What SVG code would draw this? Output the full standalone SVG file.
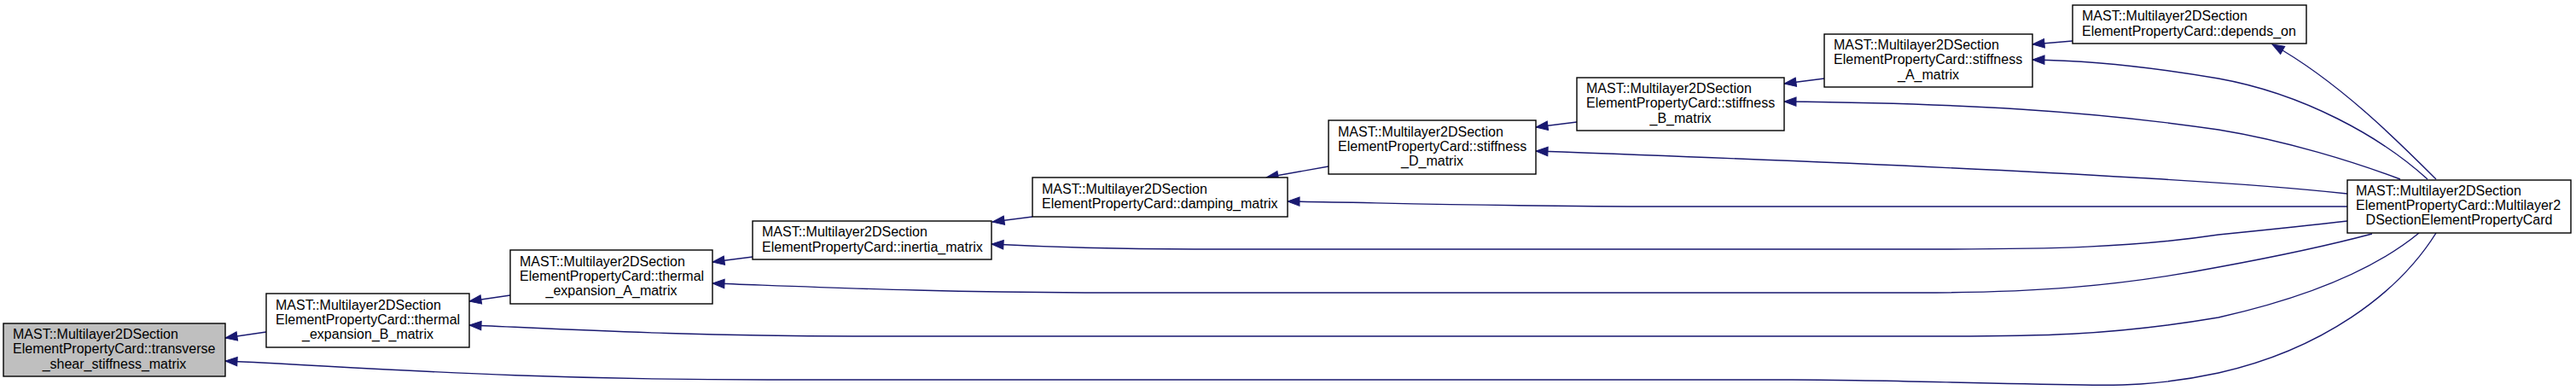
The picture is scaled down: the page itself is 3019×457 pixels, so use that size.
<svg xmlns="http://www.w3.org/2000/svg" width="3019" height="457" viewBox="0 0 3019 457">
<style>
.box{fill:#ffffff;stroke:#000000;stroke-width:1.4}
.cur{fill:#bfbfbf;stroke:#000000;stroke-width:1.4}
text{font-family:"Liberation Sans",Arial,Helvetica,sans-serif;font-size:16px;fill:#000000}
.c{text-anchor:middle}
.edge{fill:none;stroke:#191970;stroke-width:1.4;marker-end:url(#ah)}
</style>
<defs>
<marker id="ah" markerUnits="userSpaceOnUse" markerWidth="16" markerHeight="12" viewBox="0 0 16 12" refX="14" refY="6" orient="auto" overflow="visible">
<path d="M0,0.8 L14,6 L0,11.2 z" fill="#191970" stroke="#191970" stroke-width="1"/>
</marker>
</defs>
<rect width="3019" height="457" fill="#ffffff"/>
<g id="edges">
<path class="edge" d="M312,389 L264,396"/>
<path class="edge" d="M2855,273 C2810,345 2720,410 2600,437 C2530,452 2480,452 2440,451 C2300,449 2200,445 2100,445 L900,445 C600,445 420,430 264,423"/>
<path class="edge" d="M598,346 L550,353"/>
<path class="edge" d="M2835,273 C2790,310 2720,345 2600,372 C2470,394 2380,394 2275,394 L1000,394 C800,394 650,385 550,381"/>
<path class="edge" d="M882,301 L835,307"/>
<path class="edge" d="M2780,274 C2720,290 2660,302 2600,313 C2480,336 2380,343 2250,343 L1300,343 C1100,343 950,336 835,332"/>
<path class="edge" d="M1210,254 L1163,260"/>
<path class="edge" d="M2751,259 C2700,265 2650,270 2600,275 C2500,290 2400,292 2270,292 L1400,292 C1300,292 1220,289 1162,286"/>
<path class="edge" d="M1557,195 L1484,208"/>
<path class="edge" d="M2751,242 L1950,242 C1750,242 1600,237 1509,236"/>
<path class="edge" d="M1848,143 L1800,149"/>
<path class="edge" d="M2751,227 C2650,216 2550,211 2500,208 C2300,196 2050,186 1800,177"/>
<path class="edge" d="M2138,92 L2091,98"/>
<path class="edge" d="M2813,210 C2760,190 2680,165 2600,152 C2450,130 2300,121 2091,119"/>
<path class="edge" d="M2429,48 L2382,52"/>
<path class="edge" d="M2845,210 C2790,160 2700,110 2600,92 C2530,80 2450,71 2382,70"/>
<path class="edge" d="M2855,210 C2810,165 2740,95 2663,52"/>
</g>
<g id="node_transverse">
<rect class="cur" x="4" y="379" width="260" height="62"/>
<text x="15" y="397">MAST::Multilayer2DSection</text>
<text x="15" y="414.3">ElementPropertyCard::transverse</text>
<text class="c" x="134" y="431.6">_shear_stiffness_matrix</text>
</g>
<g id="node_thermal_B">
<rect class="box" x="312" y="344" width="238" height="63"/>
<text x="323" y="362.5">MAST::Multilayer2DSection</text>
<text x="323" y="379.8">ElementPropertyCard::thermal</text>
<text class="c" x="431" y="397.1">_expansion_B_matrix</text>
</g>
<g id="node_thermal_A">
<rect class="box" x="598" y="293" width="237" height="63"/>
<text x="609" y="311.5">MAST::Multilayer2DSection</text>
<text x="609" y="328.8">ElementPropertyCard::thermal</text>
<text class="c" x="716.5" y="346.1">_expansion_A_matrix</text>
</g>
<g id="node_inertia">
<rect class="box" x="882" y="259" width="280" height="45"/>
<text x="893" y="277.4">MAST::Multilayer2DSection</text>
<text x="893" y="294.7">ElementPropertyCard::inertia_matrix</text>
</g>
<g id="node_damping">
<rect class="box" x="1210" y="208" width="299" height="46"/>
<text x="1221" y="226.9">MAST::Multilayer2DSection</text>
<text x="1221" y="244.2">ElementPropertyCard::damping_matrix</text>
</g>
<g id="node_stiffness_D">
<rect class="box" x="1557" y="141" width="243" height="63"/>
<text x="1568" y="159.5">MAST::Multilayer2DSection</text>
<text x="1568" y="176.8">ElementPropertyCard::stiffness</text>
<text class="c" x="1678.5" y="194.1">_D_matrix</text>
</g>
<g id="node_stiffness_B">
<rect class="box" x="1848" y="91" width="243" height="62"/>
<text x="1859" y="109">MAST::Multilayer2DSection</text>
<text x="1859" y="126.3">ElementPropertyCard::stiffness</text>
<text class="c" x="1969.5" y="143.6">_B_matrix</text>
</g>
<g id="node_stiffness_A">
<rect class="box" x="2138" y="40" width="244" height="62"/>
<text x="2149" y="58">MAST::Multilayer2DSection</text>
<text x="2149" y="75.3">ElementPropertyCard::stiffness</text>
<text class="c" x="2260" y="92.6">_A_matrix</text>
</g>
<g id="node_depends_on">
<rect class="box" x="2429" y="6" width="274" height="45"/>
<text x="2440" y="24.4">MAST::Multilayer2DSection</text>
<text x="2440" y="41.7">ElementPropertyCard::depends_on</text>
</g>
<g id="node_ctor">
<rect class="box" x="2751" y="211" width="262" height="62"/>
<text x="2761" y="228.5">MAST::Multilayer2DSection</text>
<text x="2761" y="245.8">ElementPropertyCard::Multilayer2</text>
<text class="c" x="2882" y="263.1">DSectionElementPropertyCard</text>
</g>
</svg>
